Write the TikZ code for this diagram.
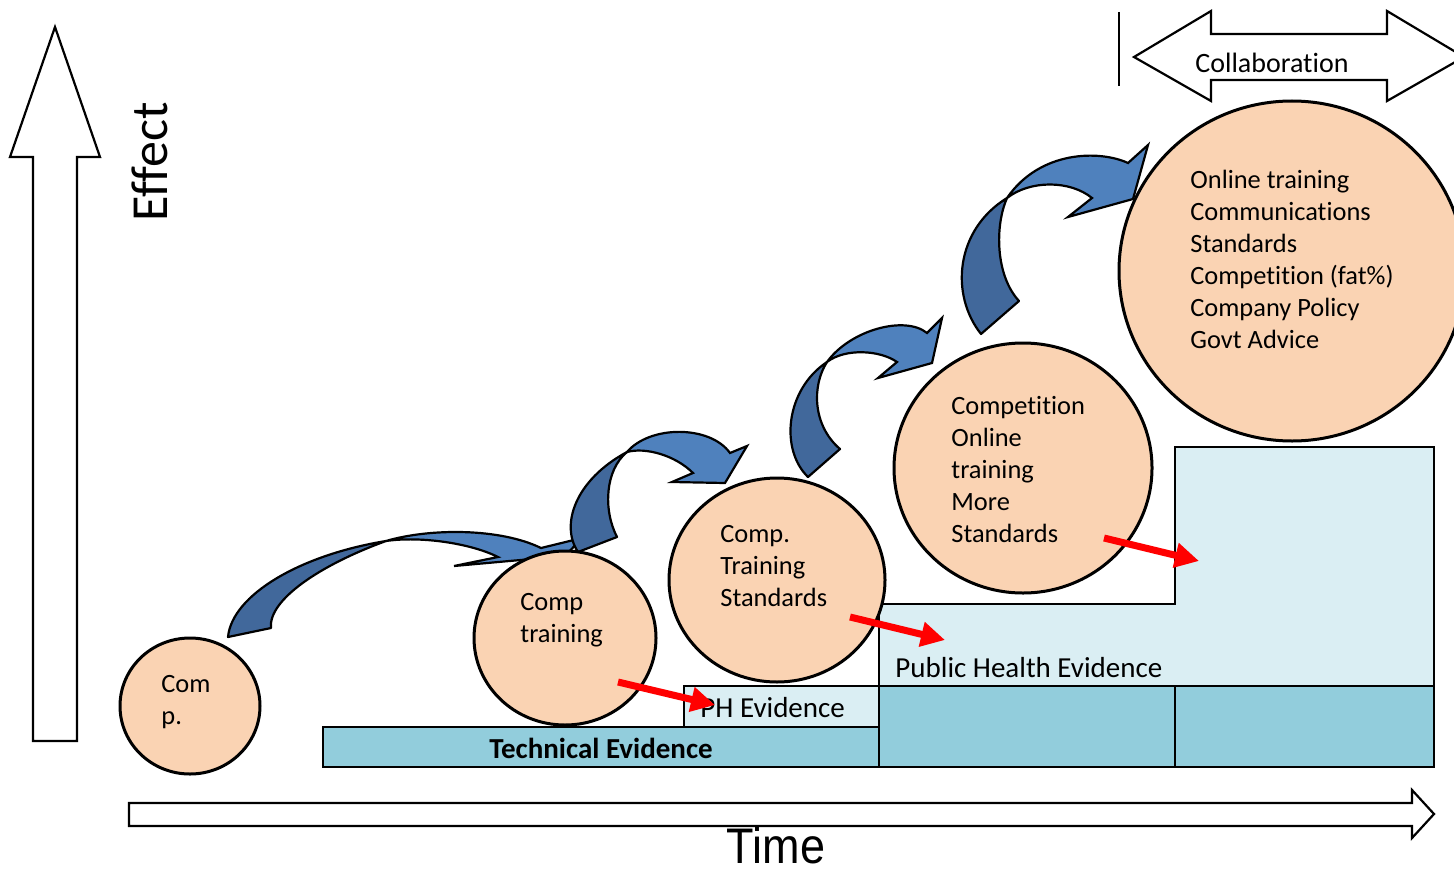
\documentclass[tikz,border=0pt]{standalone}
\usepackage{fontspec}
\setmainfont{Carlito}[Ligatures=NoCommon]
\newfontfamily\timefont{Liberation Sans}
\usetikzlibrary{shapes.geometric,arrows.meta,positioning}

\definecolor{peach}{HTML}{FAD3B3}
\definecolor{tealdark}{HTML}{92CDDC}
\definecolor{teallight}{HTML}{DAEEF3}
\definecolor{bandback}{HTML}{41689B}
\definecolor{bandfront}{HTML}{4F81BD}
\definecolor{pointer}{HTML}{FF0000}

\tikzset{
  blob/.style={ellipse, draw=black, line width=1.5pt, fill=peach, inner sep=0pt},
  blobtext/.style={align=left, inner sep=0pt, anchor=west, font=\fontsize{13.2}{16}\selectfont},
  evbox/.style={draw=black, line width=1.1pt},
  evtext/.style={inner sep=0pt, font=\fontsize{14.5}{17}\selectfont},
  hollow/.style={draw=black, line width=1.1pt, fill=white, line join=miter},
  back/.style={draw=black, line width=1.1pt, fill=bandback, line join=round},
  front/.style={draw=black, line width=1.1pt, fill=bandfront, line join=miter},
  redarrow/.style={draw=pointer, line width=3.5pt, -{Triangle[length=12pt,width=12pt]}},
}

\begin{document}
\begin{tikzpicture}[x=0.5pt, y=-0.5pt]
\useasboundingbox (0,0) rectangle (1454,872);
\clip (0,0) rectangle (1454,872);

% Axes
\draw[hollow] (33,741) -- (33,157) -- (10,157) -- (55,27) -- (100,157) -- (77,157) -- (77,741) -- cycle;
\draw[hollow] (129,803) -- (1412,803) -- (1412,790) -- (1434,814) -- (1412,838) -- (1412,826) -- (129,826) -- cycle;
\node[rotate=90, inner sep=0pt, font=\fontsize{26}{30}\selectfont] (effect) at (150,162) {Effect};
\node[anchor=base, inner sep=0pt, font=\timefont\fontsize{25}{30}\selectfont] (time) at (776,863) {\scalebox{0.9}[1]{Time}};

% Collaboration
\draw[line width=1.1pt] (1119,12) -- (1119,86);
\draw[hollow] (1134,57) -- (1211,11) -- (1211,34) -- (1387,34) -- (1387,11) -- (1464,57)
  -- (1387,101) -- (1387,80) -- (1211,80) -- (1211,101) -- cycle;
\node[evtext, font=\fontsize{14}{17}\selectfont] (collab) at (1272,63) {Collaboration};

% Evidence blocks
\draw[evbox, fill=tealdark] (323,727) rectangle (879,767);
\draw[evbox, fill=teallight] (684,686) rectangle (879,727);
\draw[evbox, fill=teallight] (879,686) -- (879,604) -- (1175,604) -- (1175,447) -- (1434,447) -- (1434,686) -- cycle;
\draw[evbox, fill=tealdark] (879,686) rectangle (1175,767);
\draw[evbox, fill=tealdark] (1175,686) rectangle (1434,767);

\node[evtext, font=\bfseries\fontsize{14.5}{17}\selectfont] (tech) at (601,748) {Technical Evidence};
\node[evtext, anchor=west] (ph) at (700,708) {PH Evidence};
\node[evtext, anchor=west] (pubhealth) at (895,668) {Public Health Evidence};

% Curved arrows
\filldraw[back] (228,637) .. controls (232,595) and (300,555) .. (386,541)
  .. controls (320,565) and (268,600) .. (271,628) -- cycle;
\filldraw[front] (386,541) .. controls (430,528) and (500,528) .. (541,548) -- (582,538) -- (565,556)
  -- (454,566) -- (498,557) .. controls (470,543) and (420,536) .. (386,541) -- cycle;

\filldraw[back] (578,552) .. controls (560,525) and (575,480) .. (627,452)
  .. controls (605,470) and (603,510) .. (617,537) -- cycle;
\filldraw[front] (627,452) .. controls (650,425) and (710,425) .. (730,453) -- (747,446) -- (725,483)
  -- (672,482) -- (693,473) .. controls (675,455) and (645,447) .. (627,452) -- cycle;

\filldraw[back] (808,477) .. controls (780,450) and (785,390) .. (827,362)
  .. controls (812,385) and (812,425) .. (840,449) -- cycle;
\filldraw[front] (827,362) .. controls (850,330) and (905,315) .. (927,333) -- (942,318) -- (932,363)
  -- (878,378) -- (897,362) .. controls (880,350) and (845,348) .. (827,362) -- cycle;

\filldraw[back] (981,334) .. controls (950,295) and (955,230) .. (1007,198)
  .. controls (995,225) and (995,275) .. (1019,301) -- cycle;
\filldraw[front] (1007,198) .. controls (1040,150) and (1100,150) .. (1128,163) -- (1148,145) -- (1133,199)
  -- (1068,217) -- (1092,198) .. controls (1070,180) and (1030,180) .. (1007,198) -- cycle;

% Stages
\node[blob, minimum width=70pt, minimum height=68pt] (comp) at (190,706) {};
\node[blob, minimum width=91pt, minimum height=87pt] (training) at (565,638) {};
\node[blob, minimum width=108pt, minimum height=102pt] (standards) at (777,580) {};
\node[blob, minimum width=129pt, minimum height=125pt] (competition) at (1023,468) {};
\node[blob, minimum width=173pt, minimum height=170pt] (online) at (1292,271) {};

\node[blobtext] (comptxt) at (161,702) {Com\\p.};
\node[blobtext] (trainingtxt) at (520,620) {Comp\\training};
\node[blobtext] (standardstxt) at (720,566) {Comp.\\Training\\Standards};
\node[blobtext] (competitiontxt) at (951,470) {Competition\\Online\\training\\More\\Standards};
\node[blobtext] (onlinetxt) at (1190,259) {Online training\\Communications\\Standards\\Competition (fat\%)\\Company Policy\\Govt Advice};

% Evidence pointers
\coordinate (r1s) at (618,682);
\coordinate (r1e) at (715,705);
\coordinate (r2s) at (850,617);
\coordinate (r2e) at (945,640);
\coordinate (r3s) at (1104,538);
\coordinate (r3e) at (1199,561);
\draw[redarrow] (r1s) -- (r1e);
\draw[redarrow] (r2s) -- (r2e);
\draw[redarrow] (r3s) -- (r3e);
\end{tikzpicture}
\end{document}
